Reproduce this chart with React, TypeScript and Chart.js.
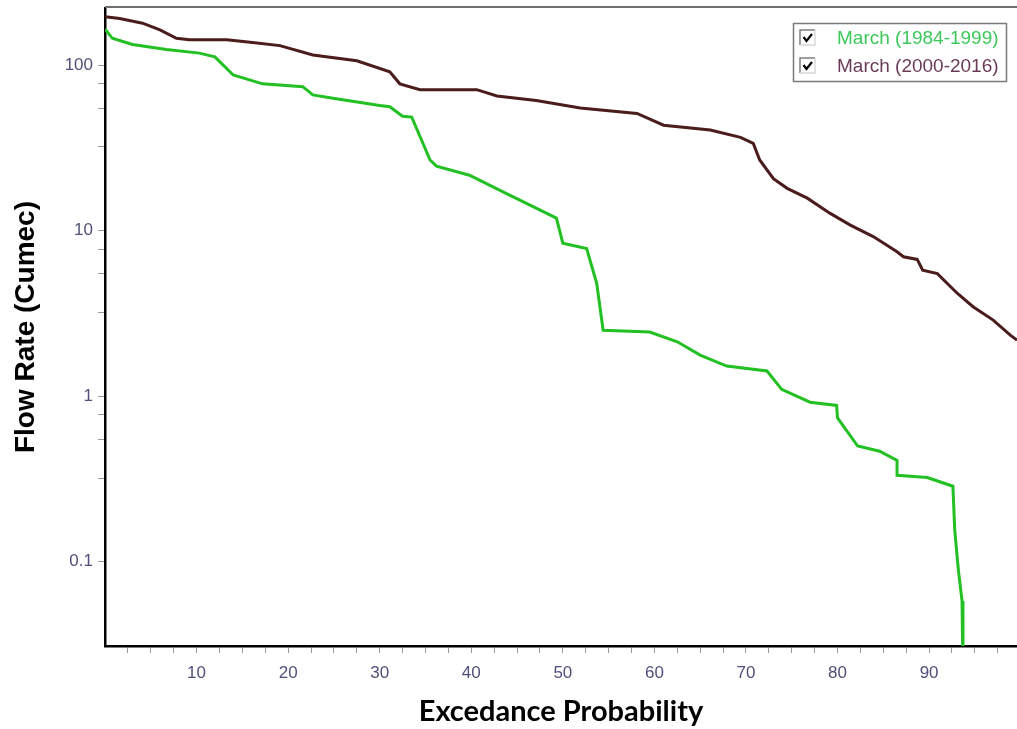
import { useEffect, useRef } from "react";
import { Chart, registerables } from "chart.js";

Chart.register(...registerables);

const seriesNames = ["March (1984-1999)", "March (2000-2016)"];
const seriesColors = ["#22c022", "#4a1c1c"];
const legendTextColors = ["#3cc85a", "#6a3c58"];

// March (1984-1999)
const greenProb = [0, 0.8, 3, 6.7, 10.3, 12, 14, 17.2, 21.6, 22.7, 24.9, 30, 31.1, 32.5, 33.5, 35.5, 36.2, 39.8, 43.8, 49.3, 50, 52.6, 53.7, 54.4, 59.5, 62.5, 65, 67.9, 72.3, 73.9, 77, 79.9, 80, 82.2, 84.6, 86.5, 86.5, 89.8, 92.6, 92.8, 93.2, 93.6, 93.7];
const greenFlow = [165, 145, 133, 124, 118, 112, 87, 77, 74, 66, 63, 57, 56, 49, 48.5, 26.7, 24.5, 21.6, 16.8, 11.9, 8.4, 7.8, 4.8, 2.5, 2.44, 2.13, 1.77, 1.52, 1.42, 1.1, 0.92, 0.88, 0.74, 0.5, 0.465, 0.41, 0.333, 0.323, 0.286, 0.155, 0.089, 0.058, 0.02];

// March (2000-2016)
const brownProb = [0, 1.6, 4.1, 6, 7.8, 9.2, 13.3, 16.1, 19.1, 22.7, 27.5, 31.1, 32.2, 34.4, 40.6, 42.8, 47.1, 51.9, 58.1, 61, 66.1, 69.4, 70.8, 71.5, 73, 74.5, 76.7, 79.2, 81.4, 83.9, 86.5, 87.2, 88.7, 89.3, 90.9, 93.1, 94.8, 97, 98.9, 99.6];
const brownFlow = [196, 191, 179, 163, 145, 142, 142, 137, 131, 115, 106, 91, 77, 71, 71, 65, 61, 55, 51, 43.3, 40.5, 36.6, 33.6, 26.7, 20.6, 18, 15.7, 12.7, 10.8, 9.2, 7.45, 6.95, 6.7, 5.77, 5.5, 4.17, 3.47, 2.88, 2.33, 2.18];

const xMajorTicks = [10, 20, 30, 40, 50, 60, 70, 80, 90];
const xMinorTicks = [2.5, 5, 7.5, 12.5, 15, 17.5, 22.5, 25, 27.5, 32.5, 35, 37.5, 42.5, 45, 47.5, 52.5, 55, 57.5, 62.5, 65, 67.5, 72.5, 75, 77.5, 82.5, 85, 87.5, 92.5, 95, 97.5];
const yMajorTicks = [0.1, 1, 10, 100];
const yMinorTicks = [0.32, 0.55, 0.77, 3.2, 5.5, 7.7, 32, 55, 77];

const X_MIN = 0;
const X_MAX = 99.6;
const Y_MIN = 0.031;
const Y_MAX = 221;

const FONT = "'Liberation Sans', Arial, sans-serif";

const toPoints = (xs: number[], ys: number[]) => xs.map((x, i) => ({ x, y: ys[i] }));

const frameLegendPlugin = {
  id: "frameLegend",
  beforeDatasetsDraw(chart: any) {
    const { ctx, chartArea } = chart;
    ctx.save();
    ctx.strokeStyle = "#6e6e6e";
    ctx.lineWidth = 2;
    ctx.beginPath();
    ctx.moveTo(chartArea.left, chartArea.top - 1);
    ctx.lineTo(chartArea.right, chartArea.top - 1);
    ctx.stroke();
    ctx.restore();
  },
  afterDraw(chart: any) {
    const { ctx } = chart;
    ctx.save();
    const bx = 793.5, by = 23.5, bw = 213, bh = 58;
    ctx.fillStyle = "#ffffff";
    ctx.fillRect(bx, by, bw, bh);
    ctx.strokeStyle = "#7a7a7a";
    ctx.lineWidth = 1.5;
    ctx.strokeRect(bx, by, bw, bh);
    const rows = [38, 66];
    rows.forEach((cy, i) => {
      const cx = 800, size = 15, top = cy - 8;
      ctx.fillStyle = "#ffffff";
      ctx.fillRect(cx, top, size, size);
      ctx.lineWidth = 1.5;
      ctx.strokeStyle = "#808080";
      ctx.beginPath();
      ctx.moveTo(cx, top + size);
      ctx.lineTo(cx, top);
      ctx.lineTo(cx + size, top);
      ctx.stroke();
      ctx.strokeStyle = "#d8d8d8";
      ctx.beginPath();
      ctx.moveTo(cx + size, top);
      ctx.lineTo(cx + size, top + size);
      ctx.lineTo(cx, top + size);
      ctx.stroke();
      ctx.strokeStyle = "#000000";
      ctx.lineWidth = 2.2;
      ctx.beginPath();
      ctx.moveTo(cx + 3.5, top + 7);
      ctx.lineTo(cx + 6.5, top + 11);
      ctx.lineTo(cx + 12, top + 4);
      ctx.stroke();
      ctx.fillStyle = legendTextColors[i];
      ctx.font = `19px ${FONT}`;
      ctx.textBaseline = "middle";
      ctx.textAlign = "left";
      ctx.fillText(seriesNames[i], 837, cy + 1);
    });
    ctx.restore();
  },
};

export default function App() {
  const canvasRef = useRef<HTMLCanvasElement | null>(null);

  useEffect(() => {
    const canvas = canvasRef.current;
    if (!canvas) return;
    const tickFont = { family: FONT, size: 17 };
    const chart = new Chart(canvas, {
      type: "line",
      data: {
        datasets: [
          {
            label: seriesNames[0],
            data: toPoints(greenProb, greenFlow),
            borderColor: seriesColors[0],
            borderWidth: 3,
            pointRadius: 0,
            tension: 0,
            fill: false,
          },
          {
            label: seriesNames[1],
            data: toPoints(brownProb, brownFlow),
            borderColor: seriesColors[1],
            borderWidth: 3,
            pointRadius: 0,
            tension: 0,
            fill: false,
          },
        ],
      },
      options: {
        responsive: false,
        animation: false,
        layout: { padding: { top: 8, left: 0, right: 0, bottom: 0 } },
        plugins: {
          legend: { display: false },
          tooltip: { enabled: false },
        },
        scales: {
          x: {
            type: "linear",
            min: X_MIN,
            max: X_MAX,
            afterBuildTicks: (s: any) => {
              s.ticks = [...xMinorTicks, ...xMajorTicks]
                .sort((a, b) => a - b)
                .map((v) => ({ value: v }));
            },
            afterFit: (s: any) => {
              s.height = 83;
              s.paddingLeft = 0;
              s.paddingRight = 0;
            },
            ticks: {
              autoSkip: false,
              maxRotation: 0,
              font: tickFont,
              color: "#50507a",
              padding: 10,
              callback: (v: any) => (xMajorTicks.includes(Number(v)) ? String(v) : ""),
            },
            grid: {
              drawOnChartArea: false,
              drawTicks: true,
              tickLength: 7,
              color: "#9a9a9a",
            },
            border: { color: "#000000", width: 2.5 },
            title: {
              display: true,
              text: "Excedance Probability",
              font: { family: "Lato, 'Open Sans', sans-serif", size: 29, weight: "bold" },
              color: "#000000",
              padding: { top: 0, bottom: 0 },
            },
          },
          y: {
            type: "logarithmic",
            min: Y_MIN,
            max: Y_MAX,
            afterBuildTicks: (s: any) => {
              s.ticks = [...yMinorTicks, ...yMajorTicks]
                .sort((a, b) => a - b)
                .map((v) => ({ value: v }));
            },
            afterFit: (s: any) => {
              s.width = 105;
              s.paddingTop = 0;
              s.paddingBottom = 0;
            },
            ticks: {
              autoSkip: false,
              font: tickFont,
              color: "#50507a",
              padding: 5,
              callback: (v: any) => (yMajorTicks.includes(Number(v)) ? String(v) : ""),
            },
            grid: {
              drawOnChartArea: false,
              drawTicks: true,
              tickLength: 7,
              color: "#9a9a9a",
            },
            border: { color: "#000000", width: 2.5 },
            title: {
              display: true,
              text: "Flow Rate (Cumec)",
              font: { family: FONT, size: 28, weight: "bold" },
              color: "#000000",
              padding: { top: 9, bottom: 0 },
            },
          },
        },
      },
      plugins: [frameLegendPlugin],
    });
    return () => chart.destroy();
  }, []);

  return (
    <div style={{ position: "absolute", left: 0, top: 0, width: 1017, height: 729, background: "#ffffff" }}>
      <canvas ref={canvasRef} width={1017} height={729} style={{ display: "block" }} />
    </div>
  );
}
